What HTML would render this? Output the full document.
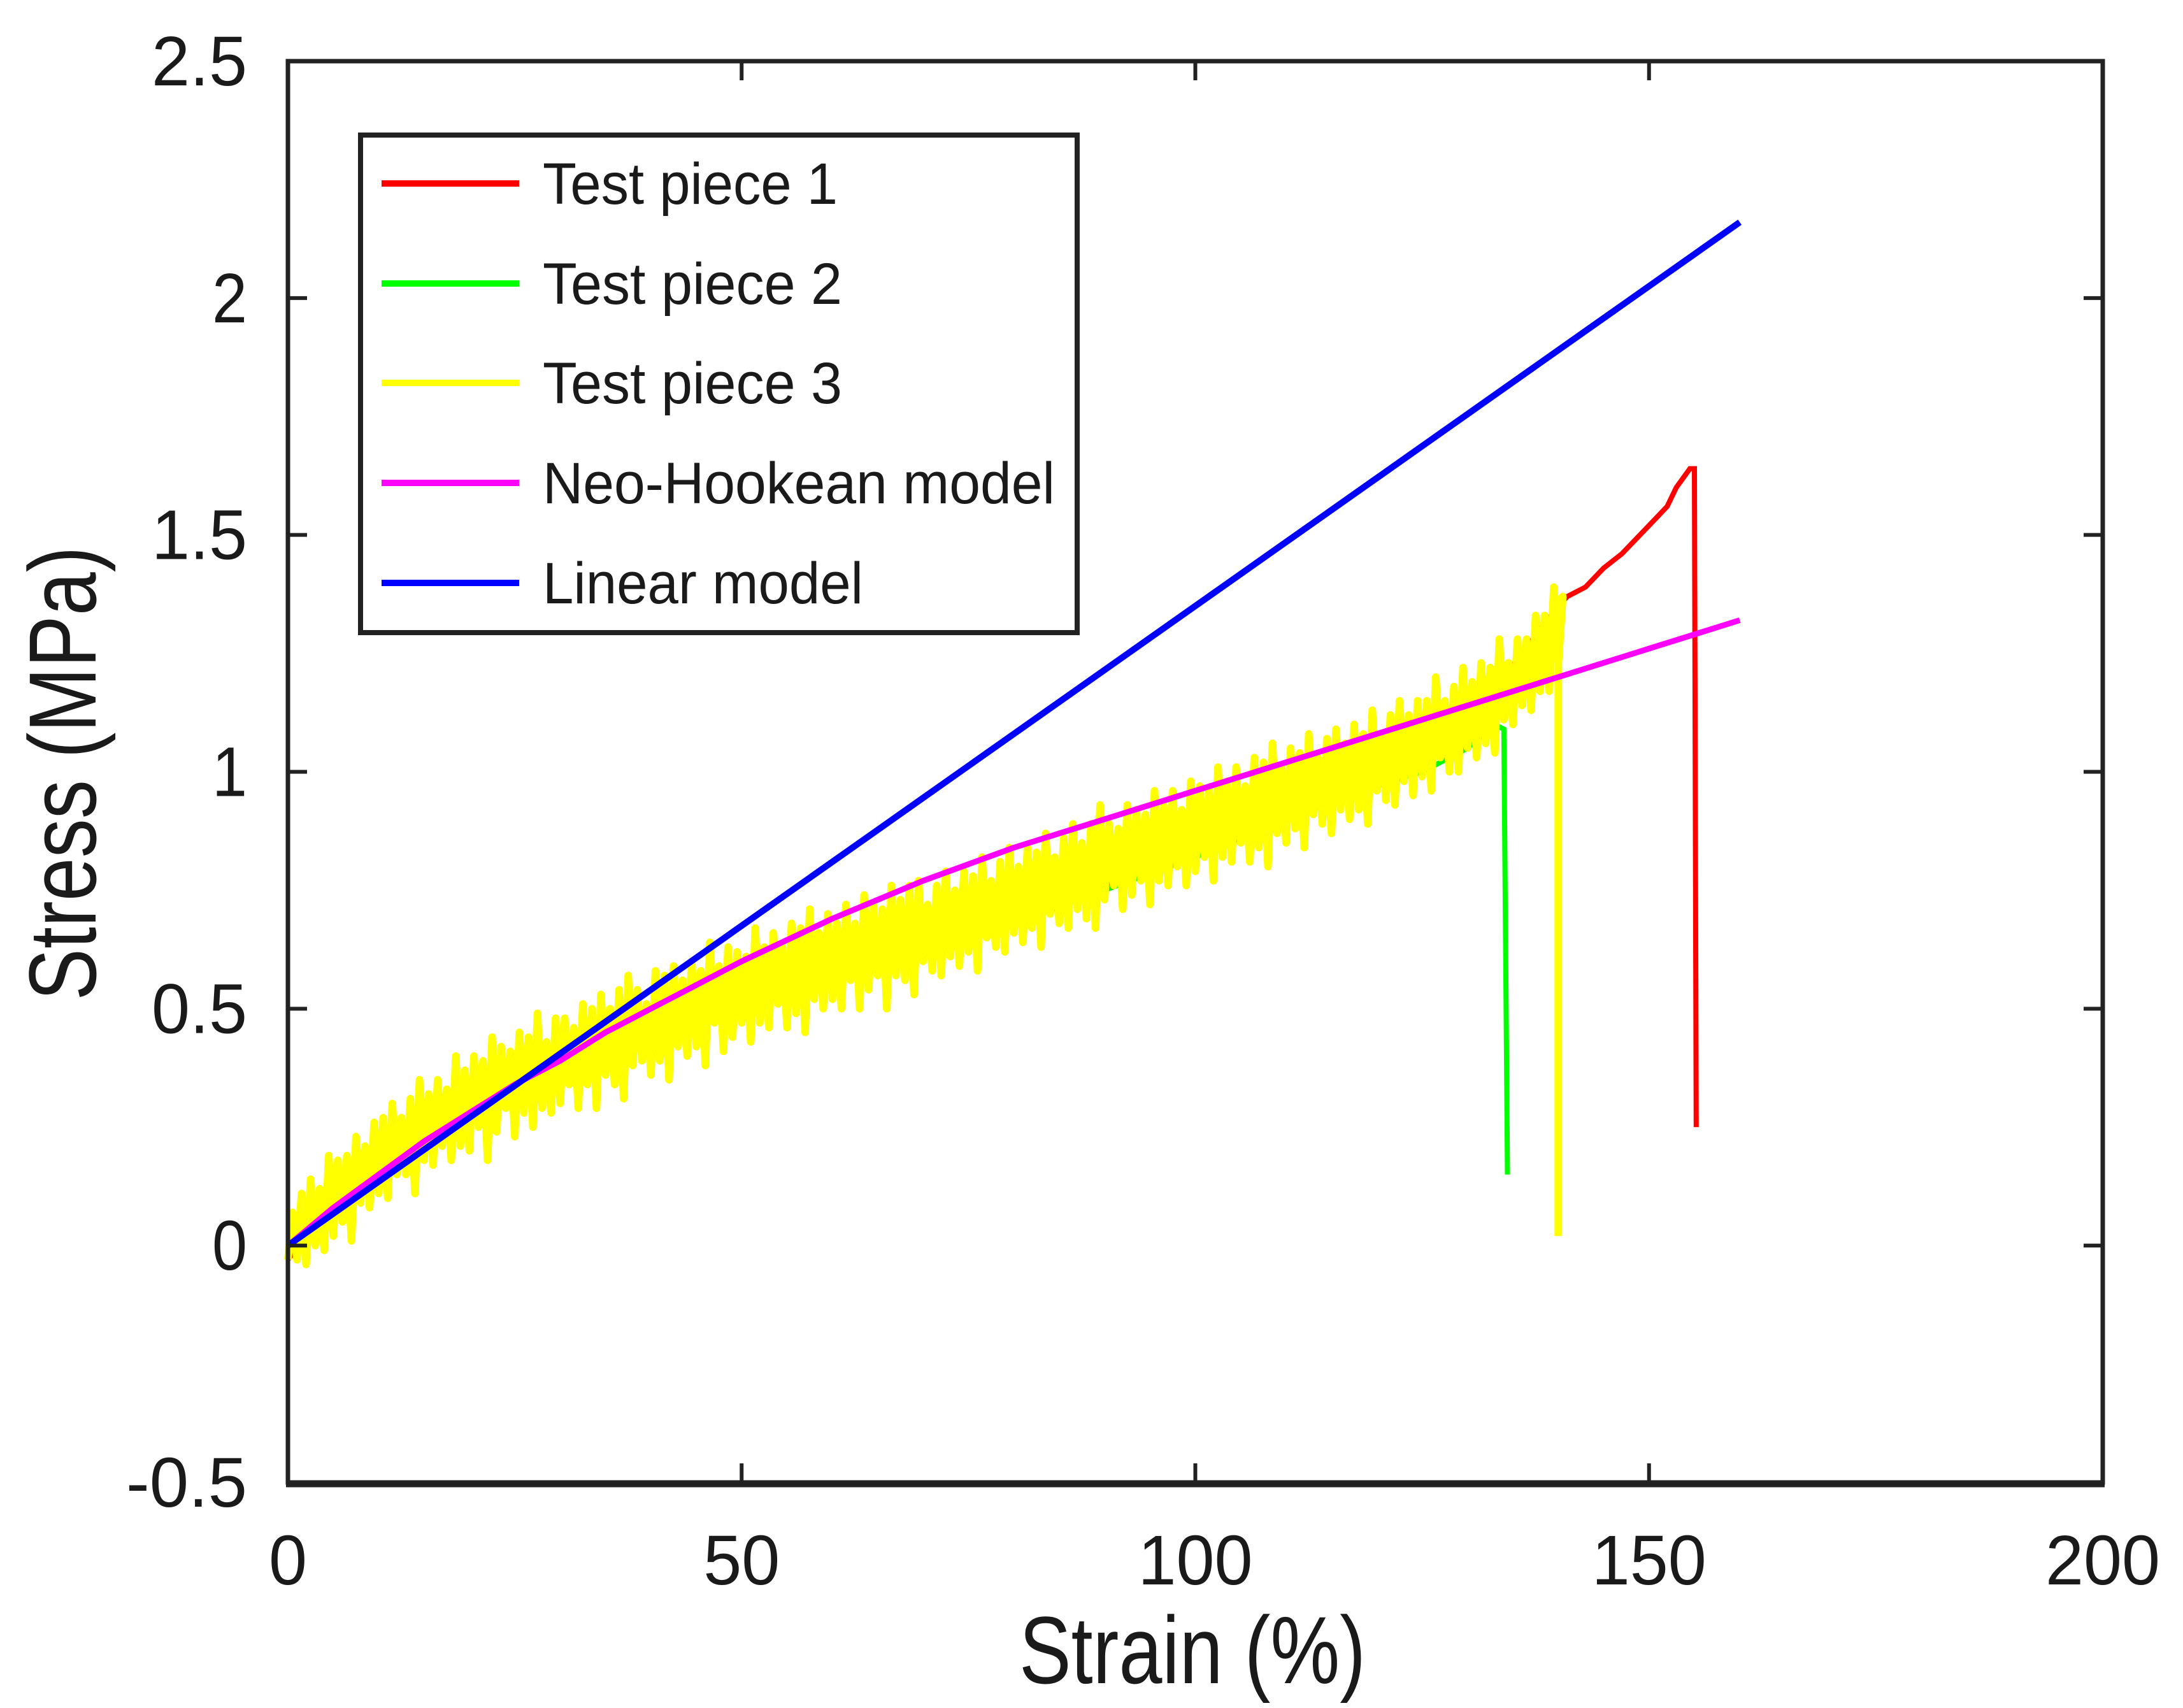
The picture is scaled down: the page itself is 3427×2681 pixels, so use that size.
<!DOCTYPE html>
<html><head><meta charset="utf-8"><style>
html,body{margin:0;padding:0;background:#fff;}
svg{display:block;}
text{font-family:"Liberation Sans",sans-serif;fill:#1a1a1a;}
</style></head><body>
<svg id="chart" width="3427" height="2681" viewBox="0 0 3427 2681" xmlns="http://www.w3.org/2000/svg">
<g id="marks"></g>
<g id="axes"></g>
<g id="legend"></g>
</svg>
<script>
const xTicks=[0,50,100,150,200];
const yTicks=[-0.5,0,0.5,1,1.5,2,2.5];
const yTickLabels=["-0.5","0","0.5","1","1.5","2","2.5"];
const modelX=[0,5,10,15,20,25,30,35,40,45,50,55,60,65,70,75,80,90,100,110,120,130,140,150,160];
const neoHookeanY=[0,0.08,0.15,0.22,0.28,0.34,0.39,0.45,0.5,0.55,0.6,0.645,0.69,0.73,0.77,0.805,0.84,0.9,0.96,1.02,1.08,1.14,1.2,1.26,1.32];
const linearY=[0,2.16];
const linearX=[0,160];
const piece2X=[0,5,10,20,30,40,50,60,70,80,90,100,110,120,125,130,133,134,134.4];
const piece2Y=[0.03,0.1,0.16,0.27,0.36,0.44,0.5,0.56,0.62,0.68,0.75,0.82,0.9,0.97,1.0,1.05,1.1,1.09,0.15];
const piece1X=[0,5,10,20,30,40,50,60,70,80,90,100,110,120,130,140,141,143,145,147,150,152,153,154.5,155,155.2];
const piece1Y=[-0.03,0.1,0.17,0.28,0.37,0.45,0.51,0.57,0.63,0.69,0.76,0.84,0.91,0.99,1.1,1.35,1.37,1.39,1.43,1.46,1.52,1.56,1.6,1.64,1.64,0.25];
const piece3Center=[0.02,0.04,0.05,0.06,0.09,0.10,0.12,0.12,0.15,0.17,0.19,
0.20,0.21,0.23,0.23,0.25,0.26,0.27,0.29,0.29,0.30,
0.32,0.31,0.33,0.35,0.34,0.36,0.37,0.36,0.38,0.39,
0.40,0.40,0.42,0.41,0.43,0.44,0.44,0.46,0.45,0.47,
0.48,0.47,0.49,0.50,0.50,0.51,0.53,0.52,0.53,0.54,
0.55,0.55,0.56,0.57,0.57,0.58,0.58,0.59,0.60,0.60,
0.61,0.62,0.62,0.63,0.64,0.63,0.65,0.66,0.65,0.66,
0.67,0.68,0.68,0.69,0.70,0.70,0.71,0.72,0.73,0.73,
0.74,0.75,0.75,0.76,0.77,0.78,0.78,0.79,0.80,0.81,
0.82,0.82,0.83,0.84,0.84,0.85,0.86,0.86,0.87,0.88,
0.89,0.89,0.90,0.91,0.91,0.92,0.93,0.93,0.94,0.95,
0.96,0.96,0.97,0.98,0.98,0.99,1.00,1.00,1.01,1.02,
1.03,1.04,1.05,1.05,1.07,1.08,1.09,1.09,1.11,1.12,
1.13,1.14,1.16,1.17,1.19,1.21,1.23,1.25,1.28,1.30];
const piece3Spread=[0.05,0.07,0.09,0.06,0.10,0.08,0.07,0.11,0.06,0.09,0.08,
0.10,0.06,0.08,0.12,0.07,0.09,0.06,0.11,0.08,0.10,
0.07,0.13,0.09,0.06,0.11,0.08,0.12,0.07,0.10,0.09,
0.06,0.11,0.08,0.12,0.07,0.10,0.13,0.08,0.06,0.11,
0.09,0.12,0.07,0.10,0.08,0.13,0.06,0.11,0.09,0.07,
0.12,0.08,0.10,0.06,0.11,0.09,0.13,0.07,0.10,0.08,
0.11,0.06,0.12,0.09,0.07,0.13,0.08,0.10,0.12,0.06,
0.09,0.11,0.07,0.10,0.08,0.12,0.06,0.09,0.11,0.07,
0.10,0.08,0.12,0.06,0.09,0.11,0.07,0.10,0.13,0.08,
0.06,0.11,0.09,0.07,0.12,0.08,0.10,0.06,0.11,0.09,
0.07,0.12,0.08,0.10,0.06,0.11,0.09,0.13,0.07,0.10,
0.08,0.12,0.06,0.09,0.11,0.07,0.10,0.08,0.12,0.06,
0.09,0.11,0.07,0.10,0.08,0.12,0.06,0.09,0.11,0.07,
0.10,0.08,0.12,0.06,0.09,0.07,0.10,0.08,0.11,0.07];
const piece3DropY=0.02;

const L=452,R=3301,T=96,B=2327;
const xMin=0,xMax=200,yMin=-0.5,yMax=2.5;
function sx(v){return L+(v-xMin)/(xMax-xMin)*(R-L);}
function sy(v){return B-(v-yMin)/(yMax-yMin)*(B-T);}
const NS="http://www.w3.org/2000/svg";
function mk(tag,parent,attrs){const e=document.createElementNS(NS,tag);for(const k in attrs)e.setAttribute(k,attrs[k]);parent.appendChild(e);return e;}
const marks=document.getElementById('marks'),axes=document.getElementById('axes'),legend=document.getElementById('legend');
function pts(xs,ys){return xs.map((x,i)=>sx(x).toFixed(1)+','+sy(ys[i]).toFixed(1)).join(' ');}

let yp=[];
piece3Center.forEach((c,i)=>{const s=piece3Spread[i];yp.push(sx(i)+','+sy(c-s));yp.push(sx(i+0.5)+','+sy(c+s));});
yp.push(sx(140)+','+sy(piece3Center[140]+0.06));
yp.push(sx(140)+','+sy(piece3DropY));
let e;
e=mk('polyline',marks,{points:pts(piece1X,piece1Y),fill:'none',stroke:'#ff0000','stroke-width':8});

e=mk('polyline',marks,{points:pts(piece2X,piece2Y),fill:'none',stroke:'#00ff00','stroke-width':8});

e=mk('polyline',marks,{points:yp.join(' '),fill:'none',stroke:'#ffff00','stroke-width':12,'stroke-linejoin':'round'});

e=mk('polyline',marks,{points:pts(modelX,neoHookeanY),fill:'none',stroke:'#ff00ff','stroke-width':9,'stroke-linejoin':'round'});

e=mk('polyline',marks,{points:pts(linearX,linearY),fill:'none',stroke:'#0000ff','stroke-width':10});


e=mk('rect',axes,{x:L,y:T,width:R-L,height:B-T,fill:'none',stroke:'#222','stroke-width':7});

mk('line',axes,{x1:L-3,y1:B+3,x2:R+3,y2:B+3,stroke:'#222','stroke-width':9});
xTicks.forEach(v=>{
 mk('line',axes,{x1:sx(v),y1:B,x2:sx(v),y2:B-30,stroke:'#222','stroke-width':6});
 mk('line',axes,{x1:sx(v),y1:T,x2:sx(v),y2:T+30,stroke:'#222','stroke-width':6});
 const t=mk('text',axes,{x:sx(v),y:2487,'font-size':110,'text-anchor':'middle',textLength:String(v).length*60,lengthAdjust:'spacingAndGlyphs'});
 t.textContent=v;
 
});
yTicks.forEach((v,i)=>{
 mk('line',axes,{x1:L,y1:sy(v),x2:L+30,y2:sy(v),stroke:'#222','stroke-width':6});
 mk('line',axes,{x1:R,y1:sy(v),x2:R-30,y2:sy(v),stroke:'#222','stroke-width':6});
 const s=yTickLabels[i];
 const w=s.length===1?55:(s.length===3?150:190);
 const t=mk('text',axes,{x:388,y:sy(v)+38,'font-size':110,'text-anchor':'end',textLength:w,lengthAdjust:'spacingAndGlyphs'});
 t.textContent=s;
 
});
e=mk('text',axes,{x:1872,y:2642,'font-size':150,'text-anchor':'middle',textLength:544,lengthAdjust:'spacingAndGlyphs'});
e.textContent='Strain (%)';

e=mk('text',axes,{x:0,y:0,'font-size':150,'text-anchor':'middle',textLength:713,lengthAdjust:'spacingAndGlyphs',transform:'translate(150,1214) rotate(-90)'});
e.textContent='Stress (MPa)';


e=mk('rect',legend,{x:566,y:212,width:1125,height:781,fill:'#fff',stroke:'#222','stroke-width':8});

const legNames=['Test piece 1','Test piece 2','Test piece 3','Neo-Hookean model','Linear model'];
const legColors=['#ff0000','#00ff00','#ffff00','#ff00ff','#0000ff'];
const legRows=[288,445,601,758,915];
const legWidths=[463,470,470,804,503];
legNames.forEach((n,i)=>{
 const g=mk('g',legend,{});
 
 mk('line',g,{x1:599,y1:legRows[i],x2:815,y2:legRows[i],stroke:legColors[i],'stroke-width':10});
 const t=mk('text',g,{x:852,y:legRows[i]+32,'font-size':92,textLength:legWidths[i],lengthAdjust:'spacingAndGlyphs'});
 t.textContent=n;
});
</script>
</body></html>
